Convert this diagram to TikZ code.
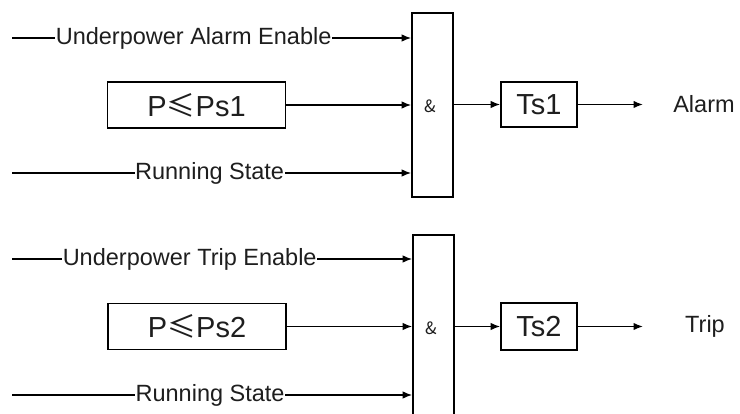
\documentclass[tikz,border=0pt]{standalone}
\usepackage{fontspec}
\setmainfont{Liberation Sans}
\newfontfamily\cjkf{Noto Sans CJK SC}
\usetikzlibrary{arrows.meta}
\definecolor{txt}{HTML}{1E1E1E}
\tikzset{
  x=1pt, y=-1pt,
  line/.style={line width=1.4pt, draw=black},
  arr/.style={line, -{Latex[length=9.5pt,width=7.5pt]}},
  lbl/.style={fill=white, inner sep=0.6pt, text=txt, font=\fontsize{23.5}{28}\selectfont},
  cmpbox/.style={draw, line width=1.6pt, minimum width=178pt, minimum height=46pt, inner sep=0pt, font=\fontsize{29}{34}\selectfont, text=txt},
  tbox/.style={draw, line width=1.6pt, minimum width=76pt, minimum height=46pt, inner sep=0pt, font=\fontsize{29}{34}\selectfont, text=txt},
  gatebox/.style={draw, line width=1.6pt, minimum width=41pt, inner sep=0pt},
  andsym/.style={font=\cjkf\fontsize{17}{20}\selectfont, inner sep=0pt, text=txt},
  outlbl/.style={text=txt, font=\fontsize{23.5}{28}\selectfont, inner sep=0pt}
}
\begin{document}
\begin{tikzpicture}
\useasboundingbox (0,0) rectangle (740,414);
% ---------- top block ----------
\node[gatebox, minimum height=184pt] (g1) at (432.5,105) {};
\node[andsym] (a1) at (430,106) {\&};
\coordinate (s1a) at (12,38);
\coordinate (s1c) at (12,173);
\node[cmpbox] (c1) at (196.5,105) {P{\cjkf ≤}Ps1};
\draw[arr] (s1a) -- node[lbl, pos=0.455] (l1a) {Underpower Alarm Enable} (s1a -| g1.west);
\draw[arr] (c1.east) -- (c1.east -| g1.west);
\draw[arr] (s1c) -- node[lbl, pos=0.495] (l1c) {Running State} (s1c -| g1.west);
\node[tbox, minimum height=45pt] (t1) at (539,104.5) {Ts1};
\draw[arr] (g1.east |- t1) -- (t1.west);
\coordinate (o1) at (643,104.5);
\draw[arr] (t1.east) -- (o1);
\node[outlbl] (alarm) at (704,104) {Alarm};
% ---------- bottom block ----------
\node[gatebox, minimum height=184pt] (g2) at (433.5,327) {};
\node[andsym] (a2) at (431,328) {\&};
\coordinate (s2a) at (12,259);
\coordinate (s2c) at (12,395);
\node[cmpbox, minimum width=178pt] (c2) at (197,326.5) {P{\cjkf ≤}Ps2};
\draw[arr] (s2a) -- node[lbl, pos=0.444] (l2a) {Underpower Trip Enable} (s2a -| g2.west);
\draw[arr] (c2.east) -- (c2.east -| g2.west);
\draw[arr] (s2c) -- node[lbl, pos=0.495] (l2c) {Running State} (s2c -| g2.west);
\node[tbox, minimum height=47pt] (t2) at (539,326.5) {Ts2};
\draw[arr] (g2.east |- t2) -- (t2.west);
\coordinate (o2) at (643,326.5);
\draw[arr] (t2.east) -- (o2);
\node[outlbl] (trip) at (705,326) {Trip};
\end{tikzpicture}
\end{document}
